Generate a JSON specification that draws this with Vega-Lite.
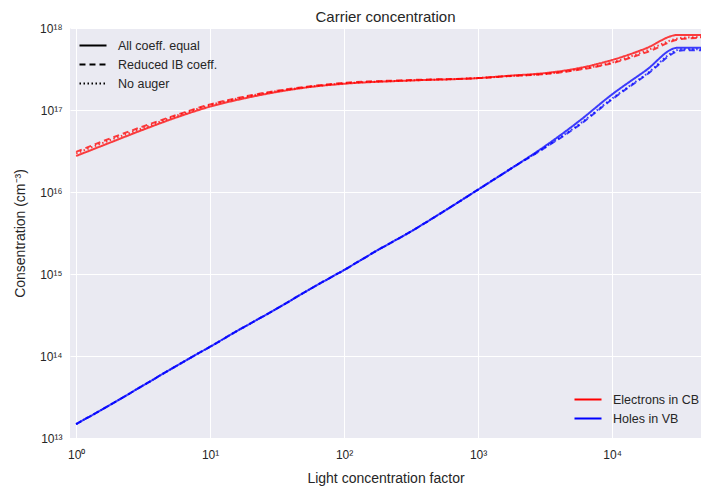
{
  "$schema": "https://vega.github.io/schema/vega-lite/v6.json",
  "width": 631,
  "height": 410,
  "autosize": {"type": "none"},
  "padding": {"left": 70, "top": 28, "right": 0, "bottom": 50},
  "background": "white",
  "title": {"text": "Carrier concentration", "fontSize": 15, "font": "Liberation Sans", "fontWeight": "normal", "color": "#262626", "offset": -3, "frame": "group"},
  "config": {
    "view": {"fill": "#EAEAF2", "stroke": null},
    "axis": {
      "domain": false,
      "ticks": false,
      "grid": true,
      "gridColor": "white",
      "gridWidth": 1,
      "labelFont": "Liberation Sans",
      "labelFontSize": 12,
      "labelColor": "#262626",
      "titleFont": "Liberation Sans",
      "titleFontSize": 14,
      "titleFontWeight": "normal",
      "titleColor": "#262626"
    },
    "legend": {
      "labelFont": "Liberation Sans",
      "labelFontSize": 12.5,
      "labelColor": "#262626",
      "symbolType": "stroke",
      "symbolSize": 730,
      "symbolStrokeWidth": 2,
      "symbolOpacity": 1,
      "clipHeight": 19,
      "rowPadding": 0,
      "labelOffset": 10,
      "padding": 0,
      "title": null
    }
  },
  "data": {
    "values": [
      {"carrier": "Electrons in CB", "model": "All coeff. equal", "x": 1, "y": 2.75e16},
      {"carrier": "Electrons in CB", "model": "All coeff. equal", "x": 1.778, "y": 3.98e16},
      {"carrier": "Electrons in CB", "model": "All coeff. equal", "x": 3.162, "y": 5.75e16},
      {"carrier": "Electrons in CB", "model": "All coeff. equal", "x": 5.623, "y": 8.13e16},
      {"carrier": "Electrons in CB", "model": "All coeff. equal", "x": 10, "y": 1.10e17},
      {"carrier": "Electrons in CB", "model": "All coeff. equal", "x": 17.78, "y": 1.38e17},
      {"carrier": "Electrons in CB", "model": "All coeff. equal", "x": 31.62, "y": 1.66e17},
      {"carrier": "Electrons in CB", "model": "All coeff. equal", "x": 56.23, "y": 1.91e17},
      {"carrier": "Electrons in CB", "model": "All coeff. equal", "x": 100, "y": 2.09e17},
      {"carrier": "Electrons in CB", "model": "All coeff. equal", "x": 316.2, "y": 2.29e17},
      {"carrier": "Electrons in CB", "model": "All coeff. equal", "x": 1000, "y": 2.45e17},
      {"carrier": "Electrons in CB", "model": "All coeff. equal", "x": 1778, "y": 2.63e17},
      {"carrier": "Electrons in CB", "model": "All coeff. equal", "x": 3162, "y": 2.82e17},
      {"carrier": "Electrons in CB", "model": "All coeff. equal", "x": 5623, "y": 3.24e17},
      {"carrier": "Electrons in CB", "model": "All coeff. equal", "x": 10000, "y": 4.07e17},
      {"carrier": "Electrons in CB", "model": "All coeff. equal", "x": 17783, "y": 5.62e17},
      {"carrier": "Electrons in CB", "model": "All coeff. equal", "x": 30900, "y": 8.22e17},
      {"carrier": "Electrons in CB", "model": "All coeff. equal", "x": 46100, "y": 8.22e17},

      {"carrier": "Electrons in CB", "model": "Reduced IB coeff.", "x": 1, "y": 3.09e16},
      {"carrier": "Electrons in CB", "model": "Reduced IB coeff.", "x": 1.778, "y": 4.47e16},
      {"carrier": "Electrons in CB", "model": "Reduced IB coeff.", "x": 3.162, "y": 6.31e16},
      {"carrier": "Electrons in CB", "model": "Reduced IB coeff.", "x": 5.623, "y": 8.71e16},
      {"carrier": "Electrons in CB", "model": "Reduced IB coeff.", "x": 10, "y": 1.17e17},
      {"carrier": "Electrons in CB", "model": "Reduced IB coeff.", "x": 17.78, "y": 1.45e17},
      {"carrier": "Electrons in CB", "model": "Reduced IB coeff.", "x": 31.62, "y": 1.72e17},
      {"carrier": "Electrons in CB", "model": "Reduced IB coeff.", "x": 56.23, "y": 1.95e17},
      {"carrier": "Electrons in CB", "model": "Reduced IB coeff.", "x": 100, "y": 2.14e17},
      {"carrier": "Electrons in CB", "model": "Reduced IB coeff.", "x": 316.2, "y": 2.32e17},
      {"carrier": "Electrons in CB", "model": "Reduced IB coeff.", "x": 1000, "y": 2.45e17},
      {"carrier": "Electrons in CB", "model": "Reduced IB coeff.", "x": 1778, "y": 2.60e17},
      {"carrier": "Electrons in CB", "model": "Reduced IB coeff.", "x": 3162, "y": 2.75e17},
      {"carrier": "Electrons in CB", "model": "Reduced IB coeff.", "x": 5623, "y": 3.09e17},
      {"carrier": "Electrons in CB", "model": "Reduced IB coeff.", "x": 10000, "y": 3.72e17},
      {"carrier": "Electrons in CB", "model": "Reduced IB coeff.", "x": 17783, "y": 5.01e17},
      {"carrier": "Electrons in CB", "model": "Reduced IB coeff.", "x": 33900, "y": 7.41e17},
      {"carrier": "Electrons in CB", "model": "Reduced IB coeff.", "x": 46100, "y": 7.59e17},

      {"carrier": "Electrons in CB", "model": "No auger", "x": 1, "y": 2.95e16},
      {"carrier": "Electrons in CB", "model": "No auger", "x": 1.778, "y": 4.27e16},
      {"carrier": "Electrons in CB", "model": "No auger", "x": 3.162, "y": 6.03e16},
      {"carrier": "Electrons in CB", "model": "No auger", "x": 5.623, "y": 8.51e16},
      {"carrier": "Electrons in CB", "model": "No auger", "x": 10, "y": 1.15e17},
      {"carrier": "Electrons in CB", "model": "No auger", "x": 17.78, "y": 1.43e17},
      {"carrier": "Electrons in CB", "model": "No auger", "x": 31.62, "y": 1.70e17},
      {"carrier": "Electrons in CB", "model": "No auger", "x": 56.23, "y": 1.93e17},
      {"carrier": "Electrons in CB", "model": "No auger", "x": 100, "y": 2.11e17},
      {"carrier": "Electrons in CB", "model": "No auger", "x": 316.2, "y": 2.29e17},
      {"carrier": "Electrons in CB", "model": "No auger", "x": 1000, "y": 2.45e17},
      {"carrier": "Electrons in CB", "model": "No auger", "x": 1778, "y": 2.60e17},
      {"carrier": "Electrons in CB", "model": "No auger", "x": 3162, "y": 2.75e17},
      {"carrier": "Electrons in CB", "model": "No auger", "x": 5623, "y": 3.13e17},
      {"carrier": "Electrons in CB", "model": "No auger", "x": 10000, "y": 3.80e17},
      {"carrier": "Electrons in CB", "model": "No auger", "x": 17783, "y": 5.25e17},
      {"carrier": "Electrons in CB", "model": "No auger", "x": 33100, "y": 7.59e17},
      {"carrier": "Electrons in CB", "model": "No auger", "x": 46100, "y": 7.76e17},

      {"carrier": "Holes in VB", "model": "All coeff. equal", "x": 1, "y": 1.48e13},
      {"carrier": "Holes in VB", "model": "All coeff. equal", "x": 1.778, "y": 2.51e13},
      {"carrier": "Holes in VB", "model": "All coeff. equal", "x": 3.162, "y": 4.37e13},
      {"carrier": "Holes in VB", "model": "All coeff. equal", "x": 5.623, "y": 7.59e13},
      {"carrier": "Holes in VB", "model": "All coeff. equal", "x": 10, "y": 1.30e14},
      {"carrier": "Holes in VB", "model": "All coeff. equal", "x": 17.78, "y": 2.24e14},
      {"carrier": "Holes in VB", "model": "All coeff. equal", "x": 31.62, "y": 3.80e14},
      {"carrier": "Holes in VB", "model": "All coeff. equal", "x": 56.23, "y": 6.61e14},
      {"carrier": "Holes in VB", "model": "All coeff. equal", "x": 100, "y": 1.12e15},
      {"carrier": "Holes in VB", "model": "All coeff. equal", "x": 177.8, "y": 1.95e15},
      {"carrier": "Holes in VB", "model": "All coeff. equal", "x": 316.2, "y": 3.31e15},
      {"carrier": "Holes in VB", "model": "All coeff. equal", "x": 562.3, "y": 5.89e15},
      {"carrier": "Holes in VB", "model": "All coeff. equal", "x": 1000, "y": 1.07e16},
      {"carrier": "Holes in VB", "model": "All coeff. equal", "x": 1778, "y": 1.95e16},
      {"carrier": "Holes in VB", "model": "All coeff. equal", "x": 3162, "y": 3.63e16},
      {"carrier": "Holes in VB", "model": "All coeff. equal", "x": 5623, "y": 7.24e16},
      {"carrier": "Holes in VB", "model": "All coeff. equal", "x": 10000, "y": 1.55e17},
      {"carrier": "Holes in VB", "model": "All coeff. equal", "x": 17783, "y": 3.02e17},
      {"carrier": "Holes in VB", "model": "All coeff. equal", "x": 30900, "y": 5.75e17},
      {"carrier": "Holes in VB", "model": "All coeff. equal", "x": 46100, "y": 5.75e17},

      {"carrier": "Holes in VB", "model": "Reduced IB coeff.", "x": 1, "y": 1.48e13},
      {"carrier": "Holes in VB", "model": "Reduced IB coeff.", "x": 1.778, "y": 2.51e13},
      {"carrier": "Holes in VB", "model": "Reduced IB coeff.", "x": 3.162, "y": 4.37e13},
      {"carrier": "Holes in VB", "model": "Reduced IB coeff.", "x": 5.623, "y": 7.59e13},
      {"carrier": "Holes in VB", "model": "Reduced IB coeff.", "x": 10, "y": 1.30e14},
      {"carrier": "Holes in VB", "model": "Reduced IB coeff.", "x": 17.78, "y": 2.24e14},
      {"carrier": "Holes in VB", "model": "Reduced IB coeff.", "x": 31.62, "y": 3.80e14},
      {"carrier": "Holes in VB", "model": "Reduced IB coeff.", "x": 56.23, "y": 6.61e14},
      {"carrier": "Holes in VB", "model": "Reduced IB coeff.", "x": 100, "y": 1.12e15},
      {"carrier": "Holes in VB", "model": "Reduced IB coeff.", "x": 177.8, "y": 1.95e15},
      {"carrier": "Holes in VB", "model": "Reduced IB coeff.", "x": 316.2, "y": 3.31e15},
      {"carrier": "Holes in VB", "model": "Reduced IB coeff.", "x": 562.3, "y": 5.89e15},
      {"carrier": "Holes in VB", "model": "Reduced IB coeff.", "x": 1000, "y": 1.07e16},
      {"carrier": "Holes in VB", "model": "Reduced IB coeff.", "x": 1778, "y": 1.95e16},
      {"carrier": "Holes in VB", "model": "Reduced IB coeff.", "x": 3162, "y": 3.47e16},
      {"carrier": "Holes in VB", "model": "Reduced IB coeff.", "x": 5623, "y": 6.46e16},
      {"carrier": "Holes in VB", "model": "Reduced IB coeff.", "x": 10000, "y": 1.35e17},
      {"carrier": "Holes in VB", "model": "Reduced IB coeff.", "x": 17783, "y": 2.63e17},
      {"carrier": "Holes in VB", "model": "Reduced IB coeff.", "x": 33900, "y": 5.37e17},
      {"carrier": "Holes in VB", "model": "Reduced IB coeff.", "x": 46100, "y": 5.37e17},

      {"carrier": "Holes in VB", "model": "No auger", "x": 1, "y": 1.48e13},
      {"carrier": "Holes in VB", "model": "No auger", "x": 1.778, "y": 2.51e13},
      {"carrier": "Holes in VB", "model": "No auger", "x": 3.162, "y": 4.37e13},
      {"carrier": "Holes in VB", "model": "No auger", "x": 5.623, "y": 7.59e13},
      {"carrier": "Holes in VB", "model": "No auger", "x": 10, "y": 1.30e14},
      {"carrier": "Holes in VB", "model": "No auger", "x": 17.78, "y": 2.24e14},
      {"carrier": "Holes in VB", "model": "No auger", "x": 31.62, "y": 3.80e14},
      {"carrier": "Holes in VB", "model": "No auger", "x": 56.23, "y": 6.61e14},
      {"carrier": "Holes in VB", "model": "No auger", "x": 100, "y": 1.12e15},
      {"carrier": "Holes in VB", "model": "No auger", "x": 177.8, "y": 1.95e15},
      {"carrier": "Holes in VB", "model": "No auger", "x": 316.2, "y": 3.31e15},
      {"carrier": "Holes in VB", "model": "No auger", "x": 562.3, "y": 5.89e15},
      {"carrier": "Holes in VB", "model": "No auger", "x": 1000, "y": 1.07e16},
      {"carrier": "Holes in VB", "model": "No auger", "x": 1778, "y": 1.95e16},
      {"carrier": "Holes in VB", "model": "No auger", "x": 3162, "y": 3.51e16},
      {"carrier": "Holes in VB", "model": "No auger", "x": 5623, "y": 6.61e16},
      {"carrier": "Holes in VB", "model": "No auger", "x": 10000, "y": 1.38e17},
      {"carrier": "Holes in VB", "model": "No auger", "x": 17783, "y": 2.69e17},
      {"carrier": "Holes in VB", "model": "No auger", "x": 33100, "y": 5.50e17},
      {"carrier": "Holes in VB", "model": "No auger", "x": 46100, "y": 5.50e17}
    ]
  },
  "mark": {"type": "line", "strokeWidth": 2, "opacity": 0.75, "clip": true, "interpolate": "monotone"},
  "encoding": {
    "x": {
      "field": "x",
      "type": "quantitative",
      "scale": {"type": "log", "domain": [0.9, 46100], "nice": false},
      "axis": {
        "title": "Light concentration factor",
        "values": [1, 10, 100, 1000, 10000],
        "labelExpr": "'10' + substring('⁰¹²³⁴⁵⁶⁷⁸⁹', round(log(datum.value)/LN10), round(log(datum.value)/LN10) + 1)",
        "labelPadding": 11,
        "titlePadding": 11
      }
    },
    "y": {
      "field": "y",
      "type": "quantitative",
      "scale": {"type": "log", "domain": [1e13, 1e18], "nice": false},
      "axis": {
        "title": "Consentration (cm⁻³)",
        "values": [1e13, 1e14, 1e15, 1e16, 1e17, 1e18],
        "labelExpr": "'10' + substring('⁰¹²³⁴⁵⁶⁷⁸⁹', floor(round(log(datum.value)/LN10)/10), floor(round(log(datum.value)/LN10)/10) + 1) + substring('⁰¹²³⁴⁵⁶⁷⁸⁹', round(log(datum.value)/LN10) % 10, round(log(datum.value)/LN10) % 10 + 1)",
        "labelPadding": 8,
        "titlePadding": 12
      }
    },
    "color": {
      "field": "carrier",
      "type": "nominal",
      "scale": {"domain": ["Electrons in CB", "Holes in VB"], "range": ["#ff0000", "#0000ff"]},
      "legend": {"orient": "none", "legendX": 503, "legendY": 362}
    },
    "strokeDash": {
      "field": "model",
      "type": "nominal",
      "scale": {"domain": ["All coeff. equal", "Reduced IB coeff.", "No auger"], "range": [[1, 0], [6, 4], [1.5, 2.5]]},
      "legend": {"orient": "top-left", "offset": 8, "symbolStrokeColor": "black"}
    }
  }
}
